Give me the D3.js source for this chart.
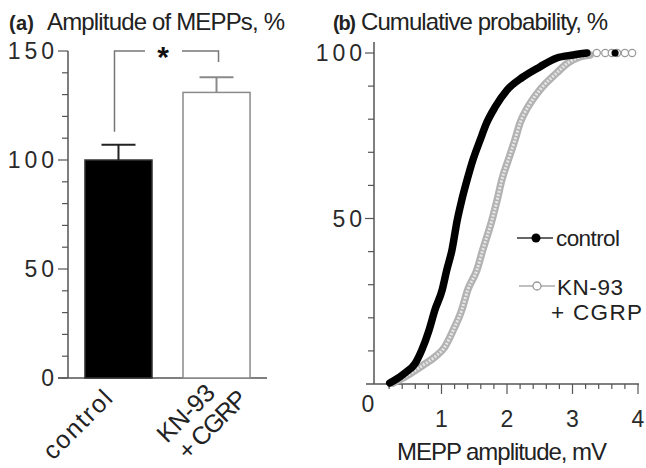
<!DOCTYPE html>
<html>
<head>
<meta charset="utf-8">
<script src="https://cdn.jsdelivr.net/npm/d3@7"></script>
<style>
  body { margin: 0; background: #fff; }
  svg { font-family: "Liberation Sans", Arial, sans-serif; }
  .lbl { fill: #222; }
  .tick_lbl { fill: #2a2a2a; font-size: 23px; }
</style>
</head>
<body>
<div id="chart"></div>
<script>
// (a) bar chart values
var bar_cats = ["control", "KN-93"];
var bar_means = [100, 131];
var bar_errors = [7, 7];
var a_ticks = [0, 50, 100, 150];

// (b) cumulative distributions
var ctrl_amp  = [0.21, 0.29, 0.44, 0.60, 0.70, 0.81, 0.90, 1.01, 1.08, 1.16, 1.24, 1.31, 1.39, 1.48, 1.59, 1.69, 1.82, 2.00, 2.24, 2.50, 2.76, 3.01, 3.22, 3.65];
var ctrl_prob = [0.3, 1.2, 3.3, 6.3, 10.3, 16.3, 22.4, 28.4, 34.4, 40.5, 49.5, 55.6, 61.6, 67.7, 73.7, 78.9, 83.7, 88.8, 92.7, 95.8, 98.5, 99.4, 100, 100];
var kn_amp  = [0.26, 0.41, 0.56, 0.72, 0.90, 1.05, 1.18, 1.31, 1.40, 1.54, 1.63, 1.77, 1.85, 1.92, 2.02, 2.12, 2.20, 2.32, 2.50, 2.76, 2.93, 3.11, 3.27, 3.37, 3.50, 3.60, 3.68, 3.80, 3.91];
var kn_prob = [0.3, 1.8, 3.6, 5.7, 8.2, 11.2, 16.3, 22.4, 28.4, 34.4, 40.5, 49.5, 55.6, 61.6, 67.7, 73.7, 78.9, 83.7, 88.8, 94.0, 97.0, 98.8, 99.4, 100, 100, 100, 100, 100, 100];
var b_yticks = [50, 100];
var b_xticks = [1, 2, 3, 4];

var width = 646;
var height = 468;
var axis_col = "#555";

var svg = d3.select("#chart").append("svg")
            .attr("width", width)
            .attr("height", height);

// text helper: left edge, baseline, fixed length
function label(x, y, txt, len, size) {
  return svg.append("text").attr("class", "lbl")
            .attr("x", x).attr("y", y)
            .style("font-size", size + "px")
            .attr("textLength", len).attr("lengthAdjust", "spacing")
            .text(txt);
}

// ---------- panel (a) ----------
var xA = d3.scaleBand().domain(bar_cats).range([68, 267]).paddingInner(0.316).paddingOuter(0.173);
var yA = d3.scaleLinear().domain([0, 150]).range([378, 51]);

label(9, 30, "(a)", 25, 20).style("font-weight", "bold");
label(47, 30, "Amplitude of MEPPs, %", 238, 24);

// y axis
svg.append("line").attr("x1", 68).attr("x2", 68).attr("y1", yA(150)).attr("y2", yA(0))
   .attr("stroke", axis_col).attr("stroke-width", 1.5);
svg.selectAll("line.a_minor").data(d3.range(0, 151, 10)).enter().append("line")
   .attr("x1", function(d) { return d % 50 === 0 ? 58 : 62; }).attr("x2", 68)
   .attr("y1", function(d) { return yA(d); }).attr("y2", function(d) { return yA(d); })
   .attr("stroke", axis_col).attr("stroke-width", 1.2);
svg.selectAll("text.a_tick").data(a_ticks).enter().append("text")
   .attr("class", "tick_lbl").attr("text-anchor", "end")
   .style("letter-spacing", "4px")
   .attr("x", 58).attr("y", function(d) { return yA(d) + 8; })
   .text(function(d) { return d; });
// x axis
svg.append("line").attr("x1", 58).attr("x2", 267).attr("y1", yA(0)).attr("y2", yA(0))
   .attr("stroke", axis_col).attr("stroke-width", 1.5);

// bars
svg.selectAll("rect.bar").data(bar_means).enter().append("rect")
   .attr("x", function(d, i) { return xA(bar_cats[i]); })
   .attr("y", function(d) { return yA(d); })
   .attr("width", xA.bandwidth())
   .attr("height", function(d) { return yA(0) - yA(d); })
   .attr("fill", function(d, i) { return i === 0 ? "#000" : "#fff"; })
   .attr("stroke", function(d, i) { return i === 0 ? "#333" : "#8a8a8a"; })
   .attr("stroke-width", 1.5);

// error bars
bar_means.forEach(function(m, i) {
  var cx = xA(bar_cats[i]) + xA.bandwidth() / 2;
  var col = i === 0 ? "#222" : "#8a8a8a";
  svg.append("line").attr("x1", cx).attr("x2", cx).attr("y1", yA(m)).attr("y2", yA(m + bar_errors[i]))
     .attr("stroke", col).attr("stroke-width", 2);
  svg.append("line").attr("x1", cx - 17).attr("x2", cx + 17).attr("y1", yA(m + bar_errors[i])).attr("y2", yA(m + bar_errors[i]))
     .attr("stroke", col).attr("stroke-width", 2);
});

// significance bracket
var lx = xA(bar_cats[0]) + xA.bandwidth() / 2 - 4;
var rx = xA(bar_cats[1]) + xA.bandwidth() / 2 + 2;
svg.append("path")
   .attr("d", "M" + lx + "," + yA(113) + "V" + yA(150) + "H145")
   .attr("fill", "none").attr("stroke", "#777").attr("stroke-width", 1.5);
svg.append("path")
   .attr("d", "M182," + yA(150) + "H" + rx + "V" + yA(145))
   .attr("fill", "none").attr("stroke", "#777").attr("stroke-width", 1.5);
svg.append("text").attr("x", 163).attr("y", 67).attr("text-anchor", "middle")
   .style("font-size", "30px").style("font-weight", "bold").attr("fill", "#111").text("*");

// rotated category labels (baseline start, rotated -45deg)
function rot_label(x, y, txt, len) {
  svg.append("text").attr("class", "lbl").style("font-size", "25px")
     .attr("textLength", len).attr("lengthAdjust", "spacing")
     .attr("transform", "translate(" + x + "," + y + ") rotate(-45)").text(txt);
}
rot_label(53, 461, "control", 86);
rot_label(167, 444, "KN-93", 70);
rot_label(188, 461, "+ CGRP", 86);

// ---------- panel (b) ----------
var xB = d3.scaleLinear().domain([0, 4]).range([376, 638]);
var yB = d3.scaleLinear().domain([0, 100]).range([384, 53]);

label(333, 30, "(b)", 23, 20).style("font-weight", "bold");
label(361, 30, "Cumulative probability, %", 247, 24);

svg.append("line").attr("x1", 374).attr("x2", 374).attr("y1", 42).attr("y2", 384)
   .attr("stroke", axis_col).attr("stroke-width", 1.5);
svg.selectAll("line.b_ytick").data(d3.range(10, 101, 10)).enter().append("line")
   .attr("x1", function(d) { return d % 50 === 0 ? 365 : 368; }).attr("x2", 374)
   .attr("y1", function(d) { return yB(d); }).attr("y2", function(d) { return yB(d); })
   .attr("stroke", axis_col).attr("stroke-width", 1.2);
svg.selectAll("text.b_ylbl").data(b_yticks).enter().append("text")
   .attr("class", "tick_lbl").attr("text-anchor", "end")
   .style("letter-spacing", "4px")
   .attr("x", 366).attr("y", function(d) { return yB(d) + 8; })
   .text(function(d) { return d; });

svg.append("line").attr("x1", 366).attr("x2", 639).attr("y1", 384).attr("y2", 384)
   .attr("stroke", axis_col).attr("stroke-width", 1.5);
svg.selectAll("line.b_xtick").data(d3.range(0.2, 4.01, 0.2)).enter().append("line")
   .attr("x1", function(d) { return xB(d); }).attr("x2", function(d) { return xB(d); })
   .attr("y1", 384)
   .attr("y2", function(d) { return Math.abs(d - Math.round(d)) < 0.01 ? 394 : 389; })
   .attr("stroke", axis_col).attr("stroke-width", 1.2);
svg.selectAll("text.b_xlbl").data(b_xticks).enter().append("text")
   .attr("class", "tick_lbl").attr("text-anchor", "middle")
   .attr("x", function(d) { return xB(d); }).attr("y", 427)
   .text(function(d) { return d; });
svg.append("text").attr("class", "tick_lbl").attr("text-anchor", "middle")
   .attr("x", 368).attr("y", 412).text("0");

label(397, 460, "MEPP amplitude, mV", 210, 24);

var line = d3.line()
             .x(function(d) { return xB(d[0]); })
             .y(function(d) { return yB(d[1]); })
             .curve(d3.curveMonotoneX);

var kn_pts = d3.zip(kn_amp, kn_prob);
var ctrl_pts = d3.zip(ctrl_amp, ctrl_prob);

// KN-93 + CGRP: band of open grey circles
var kn_band = kn_pts.filter(function(d) { return d[0] <= 3.3; });
svg.append("path").datum(kn_band).attr("d", line)
   .attr("fill", "none").attr("stroke", "#b2b2b2").attr("stroke-width", 7.5)
   .attr("stroke-linecap", "round").attr("stroke-linejoin", "round");
svg.append("path").datum(kn_band).attr("d", line)
   .attr("fill", "none").attr("stroke", "#e6e6e6").attr("stroke-width", 3)
   .attr("stroke-dasharray", "2,1.5");
svg.selectAll("circle.kn").data(kn_pts.filter(function(d) { return d[0] > 3.3; })).enter().append("circle")
   .attr("cx", function(d) { return xB(d[0]); }).attr("cy", function(d) { return yB(d[1]); })
   .attr("r", 3.6).attr("fill", "#fff").attr("stroke", "#9a9a9a").attr("stroke-width", 1.2);

// control: band of filled black circles
var ctrl_band = ctrl_pts.filter(function(d) { return d[0] <= 3.3; });
svg.append("path").datum(ctrl_band).attr("d", line)
   .attr("fill", "none").attr("stroke", "#000").attr("stroke-width", 7.5)
   .attr("stroke-linecap", "round").attr("stroke-linejoin", "round");
svg.selectAll("circle.ctrl").data(ctrl_pts.filter(function(d) { return d[0] > 3.3; })).enter().append("circle")
   .attr("cx", function(d) { return xB(d[0]); }).attr("cy", function(d) { return yB(d[1]); })
   .attr("r", 3.6).attr("fill", "#000");

// legend
svg.append("line").attr("x1", 517).attr("x2", 553).attr("y1", 238).attr("y2", 238)
   .attr("stroke", "#333").attr("stroke-width", 1.5);
svg.append("circle").attr("cx", 536).attr("cy", 238).attr("r", 4.5).attr("fill", "#000");
label(556, 246, "control", 64, 22.5);

svg.append("line").attr("x1", 519).attr("x2", 555).attr("y1", 286).attr("y2", 286)
   .attr("stroke", "#aaa").attr("stroke-width", 1.5);
svg.append("circle").attr("cx", 537).attr("cy", 286).attr("r", 4).attr("fill", "#fff")
   .attr("stroke", "#999").attr("stroke-width", 1.3);
label(557, 295, "KN-93", 66, 22.5);
label(551, 320, "+ CGRP", 91, 22.5);
</script>
</body>
</html>
